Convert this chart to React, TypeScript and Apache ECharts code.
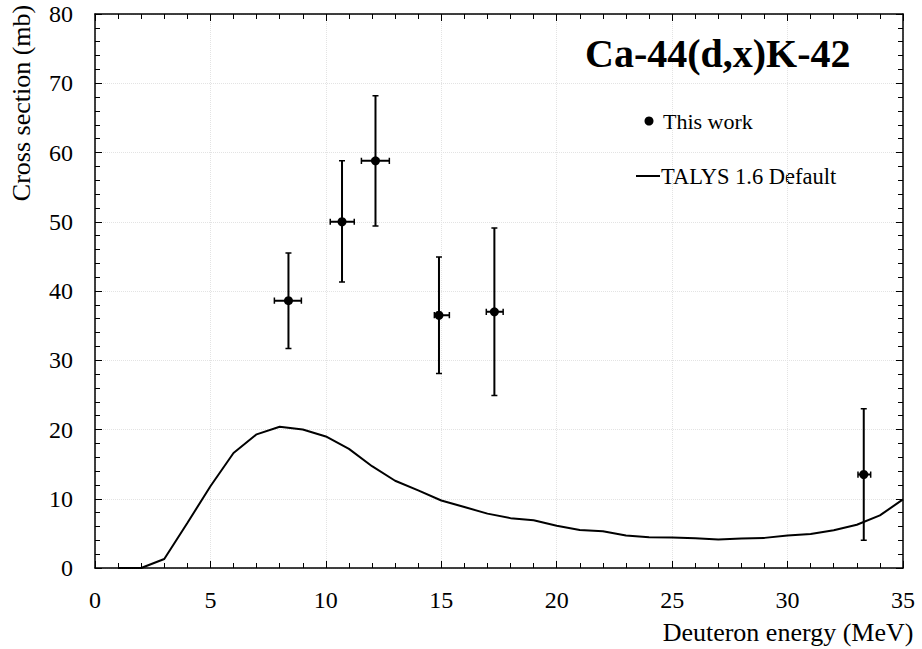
import React, { useEffect, useRef } from "react";
import * as echarts from "echarts";

const talysEnergy = [1, 2, 3, 4, 5, 6, 7, 8, 9, 10, 11, 12, 13, 14, 15, 16, 17, 18, 19, 20, 21, 22, 23, 24, 25, 26, 27, 28, 29, 30, 31, 32, 33, 34, 35];
const talysSigma = [0, 0, 1.3, 6.5, 11.8, 16.6, 19.3, 20.4, 20.0, 19.0, 17.2, 14.7, 12.6, 11.2, 9.75, 8.8, 7.85, 7.2, 6.9, 6.1, 5.5, 5.3, 4.7, 4.45, 4.4, 4.3, 4.1, 4.25, 4.35, 4.7, 4.9, 5.45, 6.25, 7.6, 9.9];

const expEnergy = [8.38, 10.7, 12.15, 14.9, 17.3, 33.3];
const expSigma = [38.6, 50.0, 58.8, 36.5, 37.0, 13.5];
const expSigmaLow = [31.7, 41.3, 49.4, 28.1, 24.9, 4.0];
const expSigmaHigh = [45.5, 58.8, 68.2, 44.9, 49.1, 23.0];
const expEnergyLow = [7.77, 10.19, 11.54, 14.7, 16.95, 33.05];
const expEnergyHigh = [8.94, 11.23, 12.75, 15.35, 17.68, 33.6];

const titleText = "Ca-44(d,x)K-42";
const xTitle = "Deuteron energy (MeV)";
const yTitle = "Cross section (mb)";
const seriesExp = "This work";
const seriesTalys = "TALYS 1.6 Default";

const FONT = "Liberation Serif";
const GAP = ["-", "-"];

function makeAxis(position: string, min: number, max: number, interval: number, showLabel: boolean, showSplit: boolean, labelMargin: number, gridIndex: number) {
  return {
    type: "value",
    gridIndex,
    position,
    min,
    max,
    interval,
    axisLine: { show: true, onZero: false, lineStyle: { color: "#000", width: 1.5 } },
    axisTick: { show: true, inside: true, length: 7, lineStyle: { color: "#000", width: 1 } },
    minorTick: { show: true, splitNumber: 5, length: 5, lineStyle: { color: "#000", width: 1 } },
    axisLabel: showLabel
      ? { show: true, fontFamily: FONT, fontSize: 24, color: "#000", margin: labelMargin }
      : { show: false },
    splitLine: { show: showSplit, lineStyle: { color: "#e3e3e3", type: "dotted", width: 1 } },
    minorSplitLine: { show: false },
  };
}

function nameOnlyAxis(gridIndex: number, name: string, gap: number) {
  return {
    type: "value",
    gridIndex,
    min: 0,
    max: 1,
    name,
    nameLocation: "middle",
    nameGap: gap,
    nameMoveOverlap: false,
    nameTextStyle: { fontFamily: FONT, fontSize: 26, color: "#000" },
    axisLine: { show: false },
    axisTick: { show: false },
    minorTick: { show: false },
    axisLabel: { show: false },
    splitLine: { show: false },
  };
}

function hiddenAxis(gridIndex: number) {
  return { type: "value", gridIndex, min: 0, max: 1, show: false };
}

export default function App() {
  const ref = useRef<HTMLDivElement>(null);
  useEffect(() => {
    if (!ref.current) return;
    const chart = echarts.init(ref.current, null, { renderer: "svg" });

    // cap half-sizes (style), expressed in axis units
    const capX = 0.13;
    const capY = 0.45;

    const barData: any[] = [];
    const capData: any[] = [];
    expEnergy.forEach((e, i) => {
      const y = expSigma[i];
      barData.push([e, expSigmaLow[i]], [e, expSigmaHigh[i]], GAP);
      barData.push([expEnergyLow[i], y], [expEnergyHigh[i], y], GAP);
      capData.push([e - capX, expSigmaLow[i]], [e + capX, expSigmaLow[i]], GAP);
      capData.push([e - capX, expSigmaHigh[i]], [e + capX, expSigmaHigh[i]], GAP);
      capData.push([expEnergyLow[i], y - capY], [expEnergyLow[i], y + capY], GAP);
      capData.push([expEnergyHigh[i], y - capY], [expEnergyHigh[i], y + capY], GAP);
    });
    const pointData = expEnergy.map((e, i) => [e, expSigma[i]]);
    const talysData = talysEnergy.map((e, i) => [e, talysSigma[i]]);

    chart.setOption({
      animation: false,
      backgroundColor: "#fff",
      title: {
        text: titleText,
        left: 580,
        top: 28,
        textStyle: { fontFamily: FONT, fontWeight: "bold", fontSize: 40, color: "#000" },
      },
      grid: [
        { left: 95, right: 19, top: 14, bottom: 81 },
        { left: 95, top: 3, width: 2, height: 200 },
        { left: 663, top: 560, width: 250, height: 8 },
      ],
      xAxis: [
        makeAxis("bottom", 0, 35, 5, true, true, 20, 0),
        makeAxis("top", 0, 35, 5, false, false, 0, 0),
        hiddenAxis(1),
        nameOnlyAxis(2, xTitle, 51),
      ],
      yAxis: [
        makeAxis("left", 0, 80, 10, true, true, 22, 0),
        makeAxis("right", 0, 80, 10, false, false, 0, 0),
        nameOnlyAxis(1, yTitle, 61),
        hiddenAxis(2),
      ],
      graphic: [
        { type: "circle", shape: { cx: 649, cy: 121, r: 4.5 }, style: { fill: "#000" } },
        {
          type: "text",
          x: 663,
          y: 110,
          style: { text: seriesExp, fontFamily: FONT, fontSize: 22, fill: "#000" },
        },
        { type: "line", shape: { x1: 636, y1: 176, x2: 660, y2: 176 }, style: { stroke: "#000", lineWidth: 2 } },
        {
          type: "text",
          x: 661,
          y: 165,
          style: { text: seriesTalys, fontFamily: FONT, fontSize: 22.5, fill: "#000" },
        },
      ],
      series: [
        {
          name: seriesTalys,
          type: "line",
          xAxisIndex: 0,
          yAxisIndex: 0,
          data: talysData,
          symbol: "none",
          showSymbol: false,
          lineStyle: { color: "#000", width: 2 },
          itemStyle: { color: "#000" },
        },
        {
          name: "error bars",
          type: "line",
          xAxisIndex: 0,
          yAxisIndex: 0,
          data: barData,
          symbol: "none",
          showSymbol: false,
          connectNulls: false,
          lineStyle: { color: "#000", width: 2 },
          itemStyle: { color: "#000" },
        },
        {
          name: "error caps",
          type: "line",
          xAxisIndex: 0,
          yAxisIndex: 0,
          data: capData,
          symbol: "none",
          showSymbol: false,
          connectNulls: false,
          lineStyle: { color: "#000", width: 1.5 },
          itemStyle: { color: "#000" },
        },
        {
          name: seriesExp,
          type: "line",
          xAxisIndex: 0,
          yAxisIndex: 0,
          data: pointData,
          symbol: "circle",
          symbolSize: 9,
          showSymbol: true,
          showAllSymbol: true,
          lineStyle: { opacity: 0, width: 0 },
          itemStyle: { color: "#000", borderWidth: 0 },
          z: 5,
        },
      ],
    });
    return () => chart.dispose();
  }, []);
  return <div ref={ref} style={{ width: 922, height: 649, position: "absolute", left: 0, top: 0 }} />;
}
